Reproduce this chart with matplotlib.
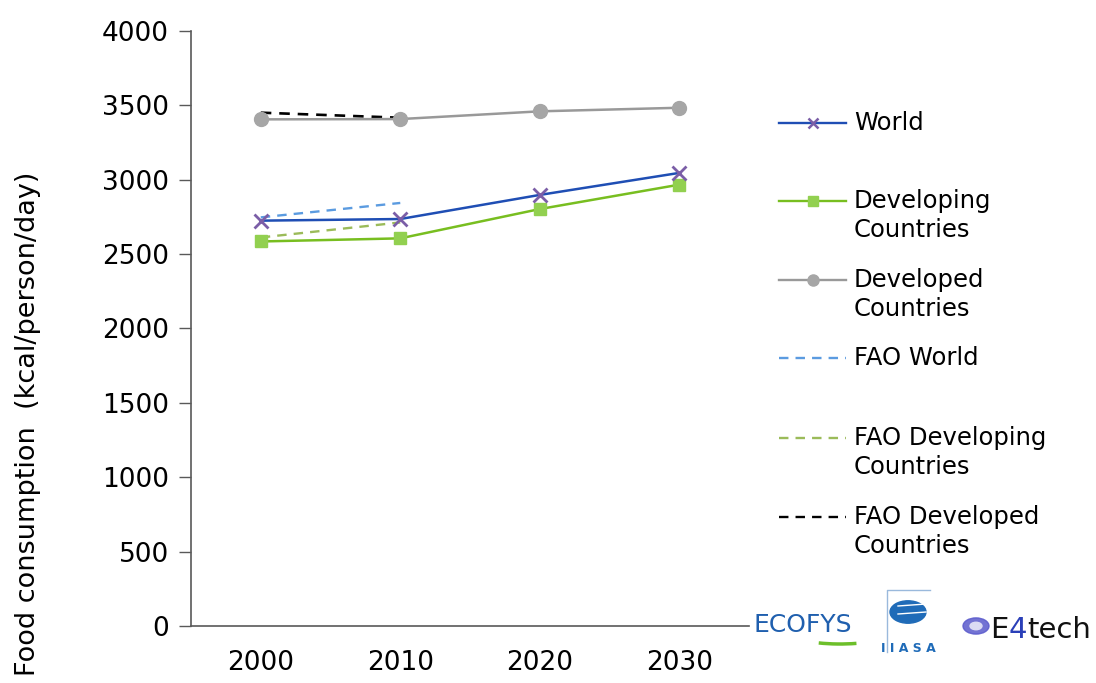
import matplotlib
matplotlib.use("Agg")
import matplotlib.pyplot as plt
from matplotlib.lines import Line2D
from matplotlib.patches import Circle, Arc

# data
years = [2000, 2010, 2020, 2030]
world = [2725, 2736, 2898, 3046]
developing = [2585, 2606, 2803, 2967]
developed = [3406, 3408, 3460, 3484]

fao_years = [2000, 2010]
fao_world = [2747, 2844]
fao_developing = [2612, 2713]
fao_developed = [3451, 3417]

y_ticks = [0, 500, 1000, 1500, 2000, 2500, 3000, 3500, 4000]

TICK_FS = 19
LEG_FS = 17.5
dash = (0, (4, 3))

fig = plt.figure(figsize=(10.96, 6.83), dpi=100)
ax = fig.add_axes([0.1743, 0.0835, 0.5091, 0.8711])

# main series
ax.plot(years, developed, color="#999999", lw=1.8, marker="o", ms=10,
        mfc="#a6a6a6", mec="#a6a6a6", zorder=3)
ax.plot(years, developing, color="#78be20", lw=1.8, marker="s", ms=9,
        mfc="#92d050", mec="#92d050", zorder=3)
ax.plot(years, world, color="#1f4eb4", lw=1.8, marker="x", ms=10, mew=2,
        mec="#7b5ea7", zorder=4)

# FAO projections
ax.plot(fao_years, fao_world, color="#5b9be0", lw=1.7, ls=dash, zorder=2)
ax.plot(fao_years, fao_developing, color="#9bbb59", lw=1.7, ls=dash, zorder=2)
ax.plot(fao_years, fao_developed, color="black", lw=1.9, ls=dash, zorder=2)

ax.set_xlim(1995, 2035)
ax.set_ylim(0, 4000)
ax.set_yticks(y_ticks)
ax.set_xticks(years)
ax.tick_params(axis="y", labelsize=TICK_FS, length=9, width=1, color="#595959", pad=7)
ax.tick_params(axis="x", labelsize=TICK_FS, length=0, pad=17)
for s in ["top", "right"]:
    ax.spines[s].set_visible(False)
for s in ["left", "bottom"]:
    ax.spines[s].set_color("#595959")
    ax.spines[s].set_linewidth(1.2)

fig.text(28 / 1096, 1 - 172 / 683, "Food consumption  (kcal/person/day)",
         rotation=90, ha="center", va="top", fontsize=19.5)

# legend drawn by hand so handles line up with the first text line
W, H = 1096.0, 683.0
entries = [
    (123, ["World"], dict(color="#1f4eb4", marker="x", ms=7, mew=1.8, mec="#7b5ea7")),
    (201, ["Developing", "Countries"], dict(color="#78be20", marker="s", ms=7, mfc="#92d050", mec="#92d050")),
    (280, ["Developed", "Countries"], dict(color="#999999", marker="o", ms=8, mfc="#a6a6a6", mec="#a6a6a6")),
    (358, ["FAO World"], dict(color="#5b9be0", ls=dash)),
    (438, ["FAO Developing", "Countries"], dict(color="#9bbb59", ls=dash)),
    (517, ["FAO Developed", "Countries"], dict(color="black", ls=dash)),
]
for ypix, lines, style in entries:
    yf = 1 - ypix / H
    mk = style.pop("marker", None)
    fig.add_artist(Line2D([779 / W, 846 / W], [yf, yf], transform=fig.transFigure,
                          lw=1.7, **{k: v for k, v in style.items() if k in ("color", "ls")}))
    if mk:
        extra = {k: v for k, v in style.items() if k not in ("color", "ls")}
        fig.add_artist(Line2D([812.5 / W], [yf], transform=fig.transFigure,
                              marker=mk, color=style["color"], lw=0, **extra))
    for i, t in enumerate(lines):
        fig.text(854 / W, 1 - (ypix + 29 * i) / H, t, fontsize=LEG_FS, va="center", ha="left")

# partner logos (approximated with text and shapes)
fig.text(754 / W, 1 - 625 / H, "ECOFYS", fontsize=18, color="#1f5fae",
         va="center", ha="left")
fig.add_artist(Arc((840 / W, 1 - 618 / H), 150 / W, 52 / H, theta1=242, theta2=292,
                   transform=fig.transFigure, color="#6cbf2a", lw=2.5))

fig.add_artist(Line2D([887 / W, 887 / W, 930 / W], [1 - 652 / H, 1 - 590 / H, 1 - 590 / H],
                      transform=fig.transFigure, color="#9ab9dc", lw=1))
fig.add_artist(Circle((908 / W, 1 - 612 / H), 18 / W, transform=fig.transFigure,
                      color="#1f6bb8"))
for yy in (606, 614):
    fig.add_artist(Line2D([898 / W, 926 / W], [1 - yy / H, 1 - (yy - 2) / H],
                          transform=fig.transFigure, color="white", lw=1))
fig.text(908 / W, 1 - 648 / H, "I I A S A", fontsize=9, color="#1f6bb8",
         ha="center", va="center", fontweight="bold")

fig.add_artist(Circle((976 / W, 1 - 626 / H), 13 / W, transform=fig.transFigure,
                      color="#5a5acc", alpha=0.85))
fig.add_artist(Circle((976 / W, 1 - 626 / H), 6 / W, transform=fig.transFigure,
                      color="#dcdcf4"))
t1 = fig.text(990 / W, 1 - 638 / H, "E", fontsize=21, color="#111111", va="baseline", ha="left")
t2 = fig.text(0, 0, "4", fontsize=21, color="#2a3fb8", va="baseline", ha="left")
t3 = fig.text(0, 0, "tech", fontsize=21, color="#111111", va="baseline", ha="left")
fig.canvas.draw()
r = fig.canvas.get_renderer()
x = t1.get_window_extent(r).x1 / fig.bbox.width
t2.set_position((x, 1 - 638 / H))
fig.canvas.draw()
x = t2.get_window_extent(r).x1 / fig.bbox.width
t3.set_position((x, 1 - 638 / H))

fig.savefig("out.png", dpi=100)
